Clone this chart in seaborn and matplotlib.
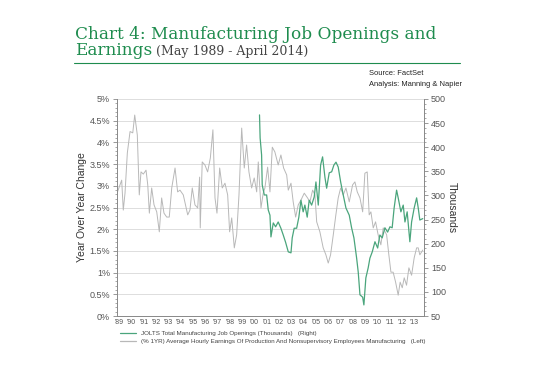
import matplotlib
matplotlib.use("Agg")
import matplotlib.pyplot as plt
import matplotlib.ticker as mticker
import pandas as pd
import seaborn as sns

# Average hourly earnings, production & nonsupervisory, manufacturing (% 1YR), left axis
earn_year = [1989.33, 1989.71, 1989.84, 1989.98, 1990.17, 1990.39, 1990.61, 1990.77, 1990.98,
             1991.14, 1991.28, 1991.47, 1991.69, 1991.83, 1991.96, 1992.15, 1992.34, 1992.56,
             1992.77, 1992.96, 1993.15, 1993.37, 1993.58, 1993.78, 1994.05, 1994.26, 1994.45,
             1994.72, 1994.94, 1995.08, 1995.26, 1995.45, 1995.67, 1995.89, 1996.05, 1996.10,
             1996.26, 1996.48, 1996.70, 1996.92, 1997.13, 1997.30, 1997.46, 1997.68, 1997.89,
             1998.11, 1998.33, 1998.49, 1998.66, 1998.87, 1999.06, 1999.25, 1999.47, 1999.68,
             1999.87, 2000.06, 2000.28, 2000.49, 2000.69, 2000.82, 2001.04, 2001.22, 2001.36,
             2001.58, 2001.77, 2001.96, 2002.17, 2002.44, 2002.66, 2002.88, 2003.13, 2003.26,
             2003.48, 2003.66, 2003.86, 2004.07, 2004.29, 2004.56, 2004.83, 2005.02, 2005.24,
             2005.43, 2005.57, 2005.83, 2006.10, 2006.32, 2006.51, 2006.70, 2006.92, 2007.13,
             2007.32, 2007.52, 2007.73, 2007.95, 2008.22, 2008.49, 2008.68, 2008.87, 2009.09,
             2009.31, 2009.49, 2009.68, 2009.84, 2009.98, 2010.17, 2010.36, 2010.57, 2010.79,
             2010.98, 2011.26, 2011.44, 2011.61, 2011.79, 2011.99, 2012.20, 2012.36, 2012.53,
             2012.69, 2012.88, 2013.07, 2013.29, 2013.50, 2013.70, 2013.83, 2013.96, 2014.20]
earn_pct = [2.83, 3.13, 2.44, 2.83, 3.76, 4.25, 4.22, 4.63, 4.17,
            2.79, 3.32, 3.27, 3.36, 3.02, 2.37, 2.95, 2.56, 2.40,
            1.94, 2.72, 2.37, 2.28, 2.28, 2.95, 3.41, 2.86, 2.90,
            2.79, 2.51, 2.33, 2.44, 2.95, 2.56, 2.49, 3.20, 2.03,
            3.55, 3.48, 3.32, 3.64, 4.29, 2.72, 2.37, 3.41, 2.95,
            3.06, 2.79, 1.94, 2.26, 1.57, 1.87, 2.79, 4.33, 3.41,
            3.94, 3.32, 2.95, 3.18, 2.86, 3.55, 2.49, 2.83, 2.95,
            3.43, 2.86, 3.89, 3.78, 3.48, 3.71, 3.41, 3.25, 2.90,
            3.06, 2.63, 2.28, 2.56, 2.67, 2.83, 2.72, 2.63, 2.90,
            2.79, 2.17, 1.94, 1.57, 1.41, 1.22, 1.41, 1.87, 2.33,
            2.72, 2.95, 2.79, 2.95, 2.63, 3.02, 3.09, 2.86, 2.72,
            2.40, 3.29, 3.32, 2.33, 2.40, 2.03, 2.17, 1.87, 1.64,
            2.03, 1.87, 1.41, 1.01, 1.01, 0.78, 0.48, 0.78, 0.65,
            0.88, 0.71, 1.11, 0.94, 1.34, 1.57, 1.57, 1.41, 1.52]

# JOLTS total manufacturing job openings (thousands), right axis
jolts_year = [2000.92, 2000.97, 2001.09, 2001.14, 2001.31, 2001.50, 2001.63, 2001.77, 2001.85,
              2002.04, 2002.23, 2002.44, 2002.66, 2002.85, 2003.04, 2003.26, 2003.48, 2003.58,
              2003.74, 2003.94, 2004.12, 2004.29, 2004.47, 2004.61, 2004.80, 2004.96, 2005.16,
              2005.37, 2005.51, 2005.70, 2005.89, 2006.05, 2006.24, 2006.38, 2006.59, 2006.79,
              2006.97, 2007.14, 2007.32, 2007.52, 2007.73, 2007.95, 2008.22, 2008.41, 2008.60,
              2008.82, 2008.95, 2009.09, 2009.31, 2009.41, 2009.57, 2009.76, 2009.90, 2010.09,
              2010.31, 2010.53, 2010.71, 2010.90, 2011.12, 2011.34, 2011.53, 2011.71, 2011.87,
              2012.07, 2012.20, 2012.42, 2012.61, 2012.75, 2012.93, 2013.15, 2013.29, 2013.50,
              2013.70, 2013.83, 2013.96, 2014.20]
jolts_k = [467, 419, 384, 322, 301, 301, 270, 259, 214,
           243, 235, 245, 232, 218, 203, 183, 181, 212,
           232, 232, 255, 290, 266, 280, 255, 290, 280,
           297, 328, 280, 363, 380, 338, 315, 347, 349,
           363, 369, 359, 328, 301, 274, 259, 233, 212,
           170, 141, 94, 89, 73, 129, 150, 170, 183,
           204, 191, 218, 212, 233, 224, 235, 233, 274,
           311, 295, 266, 280, 245, 266, 204, 245, 274,
           295, 274, 249, 252]

year_labels = ["'89", "'90", "'91", "'92", "'93", "'94", "'95", "'96", "'97", "'98", "'99", "'00",
               "'01", "'02", "'03", "'04", "'05", "'06", "'07", "'08", "'09", "'10", "'11", "'12", "'13"]

earn = pd.DataFrame({"year": earn_year, "pct": earn_pct})
jolts = pd.DataFrame({"year": jolts_year, "k": jolts_k})

sns.set_style("white")
plt.rcParams["font.family"] = ["Liberation Sans", "DejaVu Sans"]

GREEN = "#1e8c4e"
LINE_GREEN = "#4aa57c"
GRAY = "#555555"

fig = plt.figure(figsize=(5.4, 3.65), dpi=100)
ax = fig.add_axes([0.2167, 0.1342, 0.5685, 0.5946])
ax2 = ax.twinx()

sns.lineplot(data=earn, x="year", y="pct", ax=ax, color="#b8b8b8", lw=0.7)
sns.lineplot(data=jolts, x="year", y="k", ax=ax2, color=LINE_GREEN, lw=0.9)

ax.set_xlim(1989.33, 2014.3)
ax.set_ylim(0, 5)
ax2.set_ylim(50, 500)

ax.yaxis.set_major_locator(mticker.MultipleLocator(0.5))
ax.yaxis.set_minor_locator(mticker.MultipleLocator(0.1))
ax.yaxis.set_major_formatter(mticker.FuncFormatter(lambda v, p: f"{v:g}%"))
ax2.yaxis.set_major_locator(mticker.MultipleLocator(50))
ax2.yaxis.set_minor_locator(mticker.MultipleLocator(10))

# year boundaries as ticks, labels centred in each year
ax.set_xticks(range(1990, 2015))
ax.set_xticklabels([])
ax.set_xticks([y + 0.5 for y in range(1989, 2014)], minor=True)
ax.set_xticklabels(year_labels, minor=True)
ax.tick_params(axis="x", which="major", length=3, color="#888888", width=0.6)
ax.tick_params(axis="x", which="minor", length=0, labelsize=5, labelcolor=GRAY, pad=2.5)

ax.tick_params(axis="y", which="major", length=3, color="#888888", width=0.6, labelsize=6.5,
               labelcolor=GRAY, left=True, pad=2)
ax.tick_params(axis="y", which="minor", length=1.5, color="#888888", width=0.5, left=True)
ax2.tick_params(axis="y", which="major", length=3, color="#888888", width=0.6, labelsize=6.5,
                labelcolor=GRAY, right=True, pad=2)
ax2.tick_params(axis="y", which="minor", length=1.5, color="#888888", width=0.5, right=True)

ax.grid(axis="y", color="#dddddd", lw=0.7)
ax.set_axisbelow(True)

for a in (ax, ax2):
    a.spines["top"].set_visible(False)
    for s in ("left", "right", "bottom"):
        a.spines[s].set_color("#888888")
        a.spines[s].set_linewidth(0.6)

ax.set_xlabel("")
ax.set_ylabel("Year Over Year Change", fontsize=7.5, color="#333333", labelpad=2)
ax2.set_ylabel("Thousands", fontsize=7.5, color="#333333", rotation=-90, labelpad=8)

# legend below the plot
h1 = plt.Line2D([], [], color=LINE_GREEN, lw=0.9)
h2 = plt.Line2D([], [], color="#b8b8b8", lw=0.9)
fig.legend([h1, h2],
           ["JOLTS Total Manufacturing Job Openings (Thousands)   (Right)",
            "(% 1YR) Average Hourly Earnings Of Production And Nonsupervisory Employees Manufacturing   (Left)"],
           loc="upper left", bbox_to_anchor=(0.222, 0.095), frameon=False,
           prop={"family": ["Liberation Sans Narrow", "Liberation Sans"], "size": 4.5},
           labelcolor="#444444", handlelength=2.6, handletextpad=0.7, labelspacing=0.45,
           borderpad=0, borderaxespad=0)

# title block
t1 = fig.text(0.139, 0.893, "Chart 4: Manufacturing Job Openings and", fontsize=12.2,
              family="DejaVu Serif", color=GREEN, va="baseline")
t2 = fig.text(0.139, 0.849, "Earnings", fontsize=12.2, family="DejaVu Serif", color=GREEN,
              va="baseline")
fig.canvas.draw()
bb = t2.get_window_extent()
fig.text((bb.x1 + 4) / fig.bbox.width, 0.849, "(May 1989 - April 2014)", fontsize=9,
         family="DejaVu Serif", color="#444444", va="baseline")
fig.add_artist(plt.Line2D([0.137, 0.852], [0.827, 0.827], color=GREEN, lw=0.8))

src = {"family": ["Liberation Sans Narrow", "Liberation Sans"], "size": 5.4, "color": "#222222"}
fig.text(0.683, 0.795, "Source: FactSet", **src)
fig.text(0.683, 0.765, "Analysis: Manning & Napier", **src)

fig.savefig("out.png", dpi=100)
